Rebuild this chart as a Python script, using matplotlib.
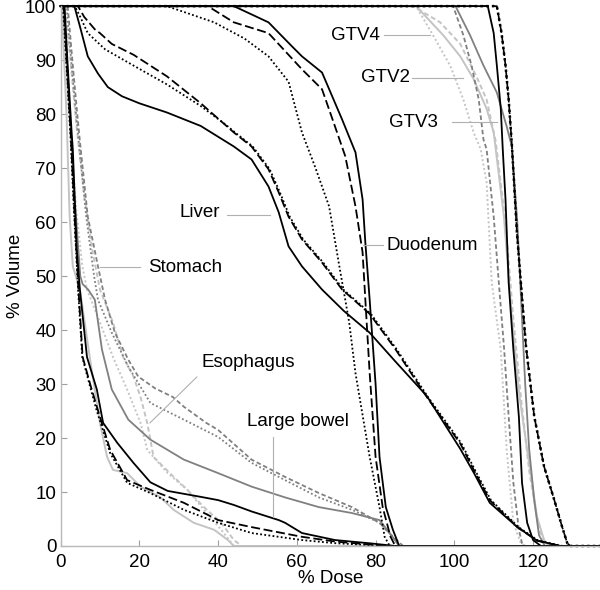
import numpy as np
import matplotlib
matplotlib.use("Agg")
import matplotlib.pyplot as plt

plt.rcParams['font.family'] = ['Liberation Sans', 'DejaVu Sans']

BLACK = '#000000'
GRAY = '#808080'
LIGHT = '#c4c4c4'

DOSE_MAX = 137
x_ticks = [0, 20, 40, 60, 80, 100, 120]
y_ticks = [0, 10, 20, 30, 40, 50, 60, 70, 80, 90, 100]

# ---- Liver ----
liver_solid_d = [0, 3.5, 5, 6.9, 9.5, 12, 15.6, 20, 27, 35.6, 44, 48.5, 52.8, 55.4, 57.9, 61.3, 66.4, 72, 78.5, 85, 93, 101.5, 105, 109, 116, 121, 127]
liver_solid_v = [100, 100, 96, 90.7, 87.5, 85, 83.3, 82, 80.3, 77.8, 74, 71.6, 66.6, 61.8, 55.5, 51.8, 47.5, 43.5, 39.5, 34.2, 27.8, 18, 13.5, 8, 3.5, 1, 0]
liver_dash_d = [0, 4.4, 6, 8.7, 10, 13, 18.5, 27, 35.6, 44, 48.5, 52.8, 55.4, 57.9, 61.3, 66.4, 71.5, 78.5, 85, 93, 101.5, 105, 109, 116, 121, 127]
liver_dash_v = [100, 100, 98, 95.7, 95, 93, 91, 87, 82, 76.6, 74, 69.8, 65.5, 61, 56.8, 52.5, 47.5, 43, 36.5, 27.6, 19, 14, 8.5, 3.5, 1, 0]
liver_dot_d = [0, 3.6, 5, 6.9, 11.3, 18.5, 27, 35.6, 42, 44.3, 48.8, 53.1, 55.7, 58.2, 61.6, 66.7, 71.8, 78.8, 85.3, 93.3, 101.8, 105.3, 109.3, 116.3, 121.3, 127.5]
liver_dot_v = [100, 100, 98, 95, 92, 89, 85.5, 81.5, 78, 76.6, 74, 69.8, 65.5, 61, 56.8, 52.5, 47.5, 43, 36.5, 27.6, 19, 14, 8.5, 3.5, 1, 0]

# ---- Duodenum ----
duo_solid_d = [0, 44, 52.8, 58.7, 61.3, 66.4, 71.5, 74.9, 76.7, 77.4, 78.5, 80, 81, 82.6, 84.4, 86]
duo_solid_v = [100, 100, 97, 92.6, 90.7, 87.7, 79, 72.9, 64.2, 56.2, 45.6, 30, 16.5, 7.2, 3, 0]
duo_dash_d = [0, 37.4, 44, 52.8, 61.3, 66.4, 69.7, 72.3, 74.9, 76.7, 77.4, 78.5, 80, 81.8, 83.8, 85]
duo_dash_v = [100, 100, 97, 95, 88.3, 84.6, 77.7, 72.2, 62.9, 54.4, 45.6, 32, 16.5, 7.2, 1.7, 0]
duo_dot_d = [0, 27, 39, 46.7, 52.8, 57.9, 61.3, 64.6, 68.2, 70.8, 72.3, 73.3, 74.9, 78.5, 81, 82.3, 83.6]
duo_dot_v = [100, 100, 97, 94, 90.7, 86, 76.6, 70.3, 62.9, 51.8, 45.6, 41.4, 32, 16.5, 7.2, 1.7, 0]

# ---- GTVs ----
gtv3_solid_d = [0, 108.5, 110, 110.8, 111.8, 112.3, 113, 113.8, 115, 116.4, 117.2, 118.5, 120, 122]
gtv3_solid_v = [100, 100, 95, 89, 81, 73.5, 64.2, 48.8, 36.4, 23.9, 11.7, 4.3, 1.1, 0]
gtv3_dot_d = [0, 110.8, 112, 113, 113.8, 114.6, 115.9, 116.9, 118.2, 120.3, 122.8, 125.4, 127.4, 128.7, 129.5]
gtv3_dot_v = [100, 100, 95, 89, 82.7, 74.5, 58, 48.8, 37, 24, 14.7, 8.5, 3.5, 0.5, 0]
gtv2_solid_d = [0, 100.3, 104, 107.4, 110.8, 113.3, 114.6, 116, 117, 118, 119, 120.3, 121.5, 123]
gtv2_solid_v = [100, 100, 94.6, 89, 84, 77.7, 74, 60, 45, 30, 18, 8.5, 2, 0]
gtv2_dash_d = [0, 99.7, 102.3, 104.4, 106.2, 107.4, 108.2, 110, 111.3, 112.6, 113.8, 115, 116.4, 117.2, 118]
gtv2_dash_v = [100, 100, 94.6, 88.9, 82.7, 75.3, 73.5, 61, 48.8, 37, 24, 11.7, 3, 0.5, 0]
gtv4_solid_d = [0, 90.3, 97.2, 101.5, 104.9, 108.2, 110, 112.6, 114.6, 116.5, 118.5, 121, 122.8, 124]
gtv4_solid_v = [100, 100, 94.6, 90.7, 86.5, 81, 76.6, 61, 42.5, 28, 17.8, 5.4, 1.1, 0]
gtv4_dash_d = [0, 89.5, 96.4, 101.5, 105.6, 108.2, 110.5, 113, 115, 117, 119, 121.5, 123.5]
gtv4_dash_v = [100, 100, 97, 93, 87, 82.7, 75, 60, 42, 27, 14, 3, 0]
gtv4_dot_d = [0, 90.3, 94.6, 99, 102.3, 104.9, 106.7, 108.2, 109.5, 111.8, 113.3, 115, 116.9, 118]
gtv4_dot_v = [100, 100, 94.6, 88.9, 82.7, 76.6, 73.5, 67.3, 48.8, 36.4, 17.8, 4.3, 0.5, 0]

# ---- Stomach ----
sto_dash_d = [0, 1.8, 3.1, 4.1, 4.9, 6.9, 9.5, 11.3, 13.8, 17.2, 19.7, 24, 28.5, 31.3, 37, 40, 48.5, 57, 65.6, 74, 81, 84, 87]
sto_dash_v = [100, 100, 89, 81, 75, 61, 51.8, 45.6, 39.5, 34.5, 31.4, 29.2, 27.6, 25.8, 22.8, 21.5, 16, 12.8, 9.8, 7.2, 4.3, 2, 0]
sto_dot_d = [0, 1.5, 2.8, 3.8, 4.6, 6.5, 8.5, 9.5, 13, 17.2, 22.8, 31.3, 40, 48.5, 57, 65.6, 74, 81, 84, 86]
sto_dot_v = [100, 100, 89, 81, 75, 61, 50, 45.6, 39.5, 33.2, 26.5, 23.4, 20.2, 15.4, 12.2, 9, 6.7, 4.3, 2, 0]
sto_solid_d = [0, 0.8, 2, 3.5, 5, 5.6, 7, 8.7, 10.5, 13, 17.2, 22.8, 31.3, 40, 48.5, 57, 65.6, 74, 81, 84, 86]
sto_solid_v = [100, 100, 85, 65, 50, 48.5, 47.5, 45.6, 36.4, 29, 23.4, 19.7, 16, 13.5, 11, 9, 7.2, 6.1, 4.8, 2, 0]

# ---- Esophagus ----
eso_dash_d = [0, 1, 2.5, 4, 6, 8, 10, 13.3, 15.9, 18.5, 20.3, 22, 22.8, 23.6, 28.7, 32.2, 36.4, 40.8, 44, 46]
eso_dash_v = [100, 100, 90, 78, 65, 55, 47.5, 41.4, 35, 31.4, 27.6, 22.8, 19.7, 16.5, 12.8, 10.4, 7.2, 4.3, 1.1, 0]
eso_dot_d = [0, 0.5, 2, 4, 5.5, 6.7, 10, 13.3, 16.9, 20.3, 22, 27.2, 32.2, 36.4, 40.8, 44]
eso_dot_v = [100, 100, 82, 62, 52, 47.5, 41.4, 35, 29, 22.8, 17.8, 13.5, 10.4, 6.7, 3, 0]
eso_solid_d = [0, 0.3, 1.5, 2.3, 3.1, 4.9, 7.4, 10, 11.8, 13.3, 16.9, 20.3, 25.4, 28.7, 33.8, 39, 42.5, 44]
eso_solid_v = [100, 100, 80, 61, 51.8, 47.5, 35, 22.8, 16.5, 14.1, 13.5, 11, 9, 6.7, 4.3, 3, 1.1, 0]

# ---- Large bowel ----
lb_solid_d = [0, 1, 1.8, 2.8, 3.1, 4.1, 4.9, 6.7, 9.2, 10.8, 14.4, 18.5, 22.8, 27.2, 35.6, 40, 44, 48.5, 52.8, 55.4, 57, 61.3, 69.7, 78.5, 85]
lb_solid_v = [100, 100, 89, 76.6, 73.5, 55, 47.5, 35, 29, 22.8, 19.1, 15.4, 11.8, 10.2, 9.1, 8.5, 7.6, 6.4, 5.4, 4.8, 4.3, 2.4, 1.1, 0.5, 0]
lb_dash_d = [0, 0.8, 1.6, 2.6, 3.5, 4.5, 5.6, 7.5, 9.2, 12.6, 16.9, 22.8, 31.3, 40, 48.5, 61.3, 70, 78, 84]
lb_dash_v = [100, 100, 89, 76, 62, 48, 35, 30, 25.8, 17.8, 12.2, 10.4, 8, 4.8, 3.5, 1.7, 0.8, 0.3, 0]
lb_dot_d = [0, 0.6, 1.5, 2.5, 3.4, 4.4, 5.5, 7.5, 9.2, 12.6, 16.9, 22.8, 31.3, 40, 48.5, 61.3, 70, 78, 83]
lb_dot_v = [100, 100, 89, 76, 62, 48, 35, 29.5, 25, 17.2, 11.7, 9.8, 6.7, 4.3, 2.4, 1.1, 0.5, 0.2, 0]

DASH = (0, (5, 2))
GDASH = (0, (2.5, 1.5))
DOT = (0, (1, 1.3))

curves = [
    # (dose, vol, color, linestyle, lw)
    (eso_solid_d, eso_solid_v, LIGHT, '-', 1.4),
    (eso_dash_d, eso_dash_v, LIGHT, GDASH, 1.4),
    (eso_dot_d, eso_dot_v, LIGHT, DOT, 1.4),
    (gtv4_solid_d, gtv4_solid_v, LIGHT, '-', 1.4),
    (gtv4_dash_d, gtv4_dash_v, LIGHT, GDASH, 1.4),
    (gtv4_dot_d, gtv4_dot_v, LIGHT, DOT, 1.4),
    (sto_solid_d, sto_solid_v, GRAY, '-', 1.3),
    (sto_dash_d, sto_dash_v, GRAY, GDASH, 1.3),
    (sto_dot_d, sto_dot_v, GRAY, DOT, 1.3),
    (gtv2_solid_d, gtv2_solid_v, GRAY, '-', 1.3),
    (gtv2_dash_d, gtv2_dash_v, GRAY, GDASH, 1.3),
    (lb_solid_d, lb_solid_v, BLACK, '-', 1.3),
    (lb_dash_d, lb_dash_v, BLACK, DASH, 1.3),
    (lb_dot_d, lb_dot_v, BLACK, DOT, 1.3),
    (liver_solid_d, liver_solid_v, BLACK, '-', 1.3),
    (liver_dash_d, liver_dash_v, BLACK, DASH, 1.3),
    (liver_dot_d, liver_dot_v, BLACK, DOT, 1.3),
    (duo_solid_d, duo_solid_v, BLACK, '-', 1.3),
    (duo_dash_d, duo_dash_v, BLACK, DASH, 1.3),
    (duo_dot_d, duo_dot_v, BLACK, DOT, 1.3),
    (gtv3_solid_d, gtv3_solid_v, BLACK, '-', 1.3),
    (gtv3_dot_d, gtv3_dot_v, BLACK, DASH, 1.2),
    (gtv3_dot_d, gtv3_dot_v, BLACK, DOT, 1.8),
]

fig = plt.figure(figsize=(6.0, 5.9), dpi=100)
ax = fig.add_axes([0.101, 0.0746, 0.899, 0.915])

for d, v, c, ls, lw in curves:
    dd = np.append(np.asarray(d, float), DOSE_MAX)
    vv = np.append(np.asarray(v, float), 0)
    ax.plot(dd, vv, color=c, linestyle=ls, linewidth=lw, clip_on=False,
            solid_joinstyle='round')

ax.set_xlim(0, DOSE_MAX)
ax.set_ylim(0, 100)
ax.set_xticks(x_ticks)
ax.set_yticks(y_ticks)
ax.tick_params(direction='in', length=4, width=0.8, color='#a0a0a0',
               labelsize=13.5)
ax.tick_params(axis='x', pad=6)
ax.tick_params(axis='y', pad=3)
for s in ['top', 'right']:
    ax.spines[s].set_visible(False)
for s in ['left', 'bottom']:
    ax.spines[s].set_color('#b8b8b8')
    ax.spines[s].set_linewidth(1.0)

ax.set_xlabel('% Dose', fontsize=13.5, labelpad=-1)
ax.set_ylabel('% Volume', fontsize=13.5, labelpad=1)

LEAD = dict(color='#b0b0b0', linewidth=0.8)
FS = 13.5
# labels with leader lines
ax.text(75, 94.6, 'GTV4', fontsize=FS, ha='center', va='center')
ax.plot([82.1, 93.8], [94.6, 94.6], **LEAD)
ax.text(82.4, 86.7, 'GTV2', fontsize=FS, ha='center', va='center')
ax.plot([89.2, 102.2], [86.7, 86.7], **LEAD)
ax.text(89.7, 78.5, 'GTV3', fontsize=FS, ha='center', va='center')
ax.plot([99.4, 110.8], [78.5, 78.5], **LEAD)
ax.text(82.9, 55.7, 'Duodenum', fontsize=FS, ha='left', va='center')
ax.plot([76.8, 81.9], [55.7, 55.7], **LEAD)
ax.text(35.4, 61.7, 'Liver', fontsize=FS, ha='center', va='center')
ax.plot([42.3, 53.2], [61.3, 61.3], **LEAD)
ax.text(22.2, 51.5, 'Stomach', fontsize=FS, ha='left', va='center')
ax.plot([10, 20.2], [51.7, 51.7], **LEAD)
ax.text(47.6, 33.9, 'Esophagus', fontsize=FS, ha='center', va='center')
ax.plot([34.6, 22.7], [31.3, 22.8], **LEAD)
ax.text(60.3, 23.0, 'Large bowel', fontsize=FS, ha='center', va='center')
ax.plot([53.9, 53.9], [20.2, 5.4], **LEAD)

fig.savefig('out.png', dpi=100)
